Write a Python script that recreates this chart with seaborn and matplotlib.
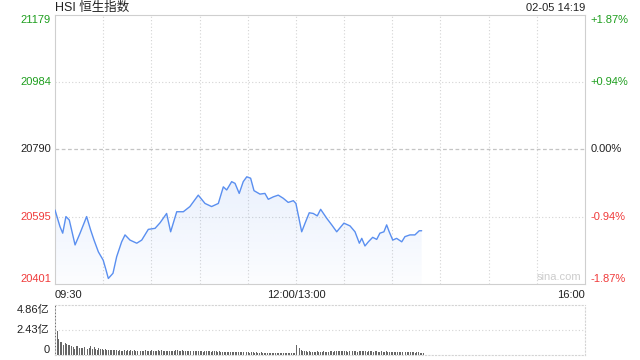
import numpy as np
import pandas as pd
import matplotlib
matplotlib.use("Agg")
import matplotlib.pyplot as plt
import seaborn as sns

# ---------------- data ----------------
minutes = [0, 3.1, 4.8, 6.8, 8.9, 12.5, 15.6, 19.7, 22.2, 24.3, 27, 30, 31.8, 33.2, 36.1,
           38.4, 41.5, 43.6, 46.7, 50.9, 54, 58.1, 62.3, 65.4, 69.5, 72, 75.8, 79.9, 84,
           89.2, 93.4, 97.5, 101.7, 104.8, 106.9, 110, 112.1, 114.7, 117.2, 119.4, 121.8,
           123.9, 127.6, 130.7, 132.8, 135.9, 139, 142.1, 145.2, 148.4, 150, 153.6, 155.7,
           158.3, 160.8, 163.3, 165.4, 169.2, 172.3, 175.4, 179.9, 183.7, 186.8, 189.5, 191,
           193, 195.1, 197.8, 200.3, 202.3, 204.8, 206.5, 208.1, 210.3, 212.7, 215.9, 217.9,
           221, 224.1, 226.8, 228.3]
prices = [20615, 20567, 20548, 20596, 20586, 20514, 20548, 20596, 20557, 20528, 20494, 20470,
          20441, 20417, 20432, 20480, 20523, 20543, 20528, 20519, 20528, 20559, 20562, 20578,
          20605, 20552, 20610, 20610, 20625, 20658, 20634, 20625, 20634, 20682, 20673, 20697,
          20692, 20663, 20697, 20711, 20707, 20671, 20661, 20663, 20646, 20653, 20658, 20649,
          20637, 20642, 20634, 20552, 20577, 20607, 20605, 20598, 20617, 20591, 20572, 20552,
          20577, 20569, 20552, 20519, 20533, 20511, 20523, 20536, 20530, 20548, 20552, 20572,
          20552, 20528, 20533, 20523, 20538, 20543, 20543, 20555, 20555]

vol_yi = [4.86, 2.35, 1.55, 1.30, 1.22, 0.98, 1.13, 1.04, 0.97, 0.97,
          0.90, 0.78, 0.58, 0.87, 0.84, 0.71, 0.70, 0.65, 0.81, 0.66,
          0.58, 0.70, 0.90, 0.62, 0.80, 0.55, 0.49, 0.68, 0.60, 0.55,
          0.52, 0.58, 0.47, 0.50, 0.45, 0.52, 0.48, 0.44, 0.50, 0.42,
          0.46, 0.40, 0.43, 0.52, 0.41, 0.45, 0.38, 0.47, 0.40, 0.44,
          0.37, 0.42, 0.46, 0.39, 0.41, 0.36, 0.44, 0.40, 0.38, 0.43,
          0.45, 0.39, 0.41, 0.37, 0.44, 0.40, 0.47, 0.42, 0.38, 0.41,
          0.36, 0.40, 0.43, 0.38, 0.42, 0.45, 0.50, 0.41, 0.39, 0.44,
          0.37, 0.41, 0.38, 0.36, 0.40, 0.42, 0.39, 0.35, 0.41, 0.37,
          0.43, 0.38, 0.34, 0.39, 0.41, 0.36, 0.38, 0.33, 0.37, 0.40,
          0.35, 0.32, 0.36, 0.30, 0.34, 0.31, 0.28, 0.33, 0.30, 0.27,
          0.31, 0.29, 0.26, 0.30, 0.28, 0.25, 0.29, 0.27, 0.24, 0.28,
          0.26, 0.23, 0.27, 0.25, 0.22, 0.26, 0.24, 0.21, 0.25, 0.23,
          0.22, 0.24, 0.20, 0.23, 0.21, 0.19, 0.22, 0.20, 0.18, 0.21,
          0.19, 0.17, 0.20, 0.18, 0.16, 0.19, 0.17, 0.18, 0.20, 0.24,
          0.95, 1.10, 0.70, 0.45, 0.40, 0.36, 0.38, 0.33, 0.35, 0.31,
          0.34, 0.30, 0.33, 0.36, 0.31, 0.29, 0.33, 0.35, 0.30, 0.32,
          0.34, 0.38, 0.36, 0.33, 0.41, 0.37, 0.35, 0.39, 0.42, 0.36,
          0.40, 0.37, 0.34, 0.38, 0.35, 0.40, 0.43, 0.36, 0.33, 0.37,
          0.39, 0.35, 0.41, 0.38, 0.34, 0.36, 0.40, 0.37, 0.33, 0.35,
          0.38, 0.34, 0.31, 0.36, 0.33, 0.30, 0.35, 0.32, 0.29, 0.34,
          0.31, 0.28, 0.33, 0.30, 0.27, 0.31, 0.29, 0.26, 0.30, 0.28,
          0.27, 0.25, 0.29, 0.26, 0.24, 0.28, 0.25, 0.23, 0.22, 0.20]

prev_close = 20790
y_ticks = [21179, 20984, 20790, 20595, 20401]
pct_labels = ["+1.87%", "+0.94%", "0.00%", "-0.94%", "-1.87%"]
time_pos = [0, 150, 330]
time_labels = ["09:30", "12:00/13:00", "16:00"]
vol_ticks = [4.86, 2.43, 0]
vol_labels = ["4.86亿", "2.43亿", "0"]
title = "HSI 恒生指数"
stamp = "02-05 14:19"

# ---------------- style ----------------
sns.set_theme(style="white")
plt.rcParams['font.family'] = ['Liberation Sans', 'Noto Sans CJK SC', 'DejaVu Sans']

GREEN = "#1e9e1e"
RED = "#f03a3a"
DARK = "#222222"
LINE = "#5a8ff0"
GRID = "#d4d4d4"
SPINE = "#cfcfcf"
label_colors = [GREEN, GREEN, DARK, RED, RED]
label_va = ["top", "center", "center", "center", "bottom"]

fig = plt.figure(figsize=(6.4, 3.6), dpi=100)
ax = fig.add_axes([55/640, 1-284/360, 530/640, 269/360])
vax = fig.add_axes([55/640, 1-355/360, 530/640, 50/360])

# ---------------- main price panel ----------------
df = pd.DataFrame({"minute": minutes, "price": prices})
ax.set_xlim(0, 330)
ax.set_ylim(y_ticks[-1], y_ticks[0])

# gradient fill under the line
top = max(prices)
grad = np.zeros((100, 2, 4))
grad[..., 0] = 90/255
grad[..., 1] = 143/255
grad[..., 2] = 240/255
grad[..., 3] = np.linspace(0.13, 0.02, 100)[:, None]
im = ax.imshow(grad, extent=[0, 330, y_ticks[-1], top], aspect="auto",
               origin="upper", zorder=1)
verts = list(zip(minutes, prices)) + [(minutes[-1], y_ticks[-1]), (minutes[0], y_ticks[-1])]
poly = plt.Polygon(verts, closed=True, facecolor="none", edgecolor="none")
ax.add_patch(poly)
im.set_clip_path(poly)

for k in range(1, 11):
    ax.axvline(30*k, color=GRID, lw=0.8, ls=(0, (1, 2)), zorder=0)
for v in [y_ticks[1], y_ticks[3]]:
    ax.axhline(v, color=GRID, lw=0.8, ls=(0, (1, 2)), zorder=0)
ax.axhline(prev_close, color="#c4c4c4", lw=0.9, ls=(0, (3, 2)), zorder=0)

sns.lineplot(data=df, x="minute", y="price", ax=ax, color=LINE, lw=1.0, zorder=3)

ax.set_xlabel("")
ax.set_ylabel("")
ax.set_yticks(y_ticks)
ax.set_yticklabels([str(v) for v in y_ticks])
ax.tick_params(axis="y", length=0, pad=3, labelsize=8)
for lbl, c, va in zip(ax.get_yticklabels(), label_colors, label_va):
    lbl.set_color(c)
    lbl.set_va(va)
ax.set_xticks(time_pos)
ax.set_xticklabels(time_labels)
ax.tick_params(axis="x", length=0, pad=4, labelsize=8, labelcolor=DARK)
for lbl, ha in zip(ax.get_xticklabels(), ["left", "center", "right"]):
    lbl.set_ha(ha)
for s in ax.spines.values():
    s.set_visible(True)
    s.set_color(SPINE)
    s.set_linewidth(0.8)

rax = ax.twinx()
rax.set_ylim(ax.get_ylim())
rax.set_yticks(y_ticks)
rax.set_yticklabels(pct_labels)
rax.tick_params(axis="y", length=0, pad=4, labelsize=8)
for lbl, c, va in zip(rax.get_yticklabels(), label_colors, label_va):
    lbl.set_color(c)
    lbl.set_va(va)
for s in rax.spines.values():
    s.set_visible(False)

ax.text(0.994, 0.008, "sina.com", transform=ax.transAxes, ha="right", va="bottom",
        fontsize=8, color="#cccccc")

# ---------------- volume panel ----------------
vdf = pd.DataFrame({"minute": np.arange(len(vol_yi)), "vol": vol_yi})
vax.bar(vdf["minute"], vdf["vol"], width=0.6, align="edge", color="#666666",
        edgecolor="none", linewidth=0, zorder=2)
vax.set_xlim(0, 330)
vax.set_ylim(0, vol_ticks[0])
vax.axhline(vol_ticks[1], color=GRID, lw=0.8, ls=(0, (1, 2)), zorder=0)
vax.set_xticks([])
vax.set_yticks(vol_ticks)
vax.set_yticklabels(vol_labels)
vax.tick_params(axis="y", length=0, pad=4, labelsize=8, labelcolor=DARK)
for lbl, va in zip(vax.get_yticklabels(), ["top", "center", "bottom"]):
    lbl.set_va(va)
for s in vax.spines.values():
    s.set_visible(True)
    s.set_color(GRID)
    s.set_linewidth(0.8)
    s.set_linestyle((0, (1, 2)))

# ---------------- header ----------------
fig.text(55/640, 1-8/360, title, ha="left", va="center", fontsize=9, color=DARK)
fig.text(585/640, 1-8/360, stamp, ha="right", va="center", fontsize=8, color=DARK)

fig.savefig("out.png", dpi=100)
